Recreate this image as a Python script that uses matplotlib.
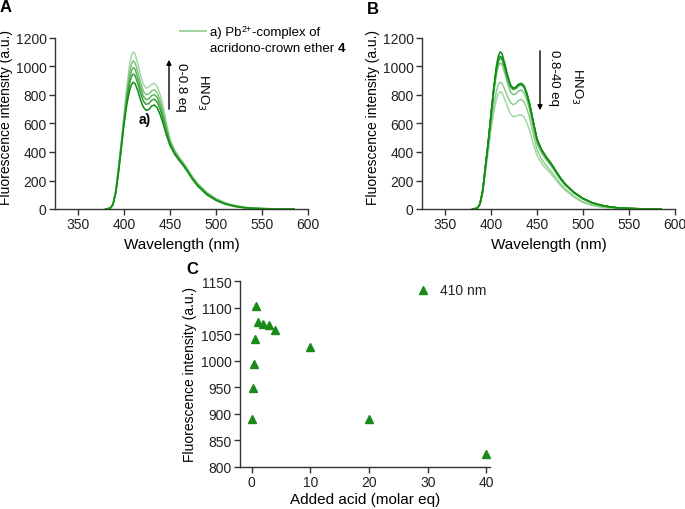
import matplotlib
matplotlib.use("Agg")
import matplotlib.pyplot as plt
from matplotlib.lines import Line2D
from matplotlib.patches import FancyArrowPatch
import numpy as np

plt.rcParams['font.family'] = ['Liberation Sans', 'DejaVu Sans']

# ---------------- data ----------------
wavelength = [380, 385, 388, 391, 394, 397, 400, 403, 406, 408,
              410, 412, 415, 418, 421, 424, 427, 430, 433, 436,
              439, 442, 446, 450, 455, 460, 465, 470, 475, 480,
              490, 500, 510, 520, 530, 540, 550, 565, 585]

# Panel A: 0 - 0.8 eq HNO3
spec_A_0 = [0, 5, 30, 110, 250, 420, 590, 730, 830, 872, 890, 880, 830, 765, 715, 692, 698, 722, 730, 712,
            668, 610, 520, 445, 385, 340, 300, 252, 203, 162, 100, 60, 34, 18, 9, 4, 2, 0, 0]
spec_A_02 = [0, 5, 31, 115, 264, 434, 609, 762, 879, 927, 948, 937, 881, 812, 758, 734, 740, 763, 771, 752,
             706, 645, 544, 457, 393, 347, 306, 257, 208, 167, 105, 64, 37, 20, 10, 5, 3, 0, 0]
spec_A_04 = [0, 5, 32, 120, 274, 444, 624, 788, 916, 969, 993, 981, 921, 849, 792, 767, 773, 795, 803, 784,
             736, 671, 563, 467, 399, 352, 311, 262, 212, 171, 109, 67, 39, 22, 11, 5, 3, 0, 0]
spec_A_06 = [0, 5, 34, 124, 285, 455, 639, 814, 956, 1014, 1040, 1027, 963, 888, 827, 801, 808, 829, 836, 817,
             767, 700, 583, 477, 406, 358, 315, 266, 216, 175, 113, 70, 41, 24, 13, 6, 3, 1, 0]
spec_08 = [0, 5, 35, 130, 300, 470, 660, 850, 1010, 1075, 1103, 1090, 1020, 940, 875, 848, 855, 875, 882, 862,
           810, 738, 610, 490, 415, 365, 322, 272, 222, 180, 118, 74, 44, 26, 14, 7, 4, 1, 0]

# Panel B: 0.8 - 40 eq HNO3
spec_B_1 = [0, 5, 35, 130, 300, 470, 660, 845, 990, 1048, 1072, 1062, 1000, 928, 870, 847, 853, 874, 881, 862,
            810, 738, 610, 490, 415, 365, 322, 272, 222, 180, 118, 74, 44, 26, 14, 7, 4, 1, 0]
spec_B_2 = [0, 5, 35, 130, 300, 470, 658, 843, 987, 1045, 1069, 1059, 998, 925, 868, 845, 852, 872, 879, 860,
            808, 736, 608, 489, 414, 364, 321, 271, 221, 179, 117, 73, 44, 26, 14, 7, 4, 1, 0]
spec_B_3 = [0, 5, 35, 130, 300, 470, 657, 841, 985, 1043, 1067, 1057, 996, 923, 866, 843, 850, 870, 877, 858,
            806, 734, 606, 487, 412, 362, 320, 270, 220, 178, 117, 73, 43, 25, 14, 7, 4, 1, 0]
spec_B_4 = [0, 5, 35, 129, 298, 467, 653, 835, 977, 1034, 1057, 1047, 987, 915, 858, 836, 843, 863, 870, 851,
            800, 728, 600, 482, 408, 358, 316, 267, 218, 176, 115, 72, 43, 25, 13, 7, 4, 1, 0]
spec_B_10 = [0, 5, 34, 127, 292, 458, 640, 815, 950, 1003, 1025, 1014, 955, 882, 825, 802, 808, 828, 835, 816,
             766, 697, 575, 462, 392, 345, 305, 258, 210, 170, 111, 69, 41, 24, 13, 6, 3, 1, 0]
spec_B_20 = [0, 5, 32, 120, 275, 430, 590, 725, 830, 875, 891, 882, 838, 788, 750, 732, 740, 762, 770, 752,
             705, 640, 525, 415, 348, 305, 268, 225, 180, 145, 90, 50, 28, 15, 7, 3, 1, 0, 0]
spec_B_40 = [0, 5, 30, 112, 258, 405, 555, 680, 772, 810, 824, 815, 770, 715, 670, 648, 652, 660, 661, 645,
             605, 550, 455, 375, 320, 282, 248, 208, 168, 135, 83, 46, 25, 13, 6, 3, 1, 0, 0]

# Panel C: intensity at 410 nm vs added acid
acid_eq = [0, 0.2, 0.4, 0.6, 0.8, 1, 2, 3, 4, 10, 20, 40]
int_410 = [890, 948, 993, 1040, 1103, 1072, 1069, 1067, 1057, 1025, 891, 824]

wl_ticks = [350, 400, 450, 500, 550, 600]
fl_ticks = [0, 200, 400, 600, 800, 1000, 1200]
c_yticks = [800, 850, 900, 950, 1000, 1050, 1100, 1150]
c_xticks = [0, 10, 20, 30, 40]

# ---------------- style ----------------
axis_col = '#333333'
dark = np.array([0.07, 0.55, 0.07])
light = np.array([0.64, 0.85, 0.64])
marker_col = '#1a8a1a'


def shade(t):
    return tuple(dark * (1 - t) + light * t)


def style_axes(ax):
    for s in ['top', 'right']:
        ax.spines[s].set_visible(False)
    for s in ['left', 'bottom']:
        ax.spines[s].set_color(axis_col)
        ax.spines[s].set_linewidth(1.0)
    ax.tick_params(colors=axis_col, labelcolor='#222222', labelsize=10, length=4, width=1.0,
                   direction='out', pad=2.0)


fig = plt.figure(figsize=(6.85, 5.1), dpi=100)
W, H = 685, 510


def px_axes(l, r, t, b):
    return fig.add_axes([l / W, 1 - b / H, (r - l) / W, (b - t) / H])


def fx(x):
    return x / W


def fy(y):
    return 1 - y / H


# ---------- Panel A ----------
axA = px_axes(55, 308, 39, 210)
specsA = [spec_A_0, spec_A_02, spec_A_04, spec_A_06, spec_08]
nA = len(specsA)
for i, s in enumerate(specsA):
    axA.plot(wavelength, s, color=shade(i / (nA - 1)), lw=1.1, zorder=10 - i)
axA.set_xlim(325, 600)
axA.set_ylim(0, 1200)
axA.set_xticks(wl_ticks)
axA.set_yticks(fl_ticks)
style_axes(axA)
axA.set_xlabel('Wavelength (nm)', fontsize=11)
axA.xaxis.set_label_coords(0.5, (210 - 238) / 171)
axA.set_ylabel('Fluorescence intensity (a.u.)', fontsize=10)
axA.yaxis.set_label_coords((13 - 55) / 253, (210 - 118) / 171)

# ---------- Panel B ----------
axB = px_axes(422, 675, 39, 210)
specsB = [spec_08, spec_B_1, spec_B_2, spec_B_3, spec_B_4, spec_B_10, spec_B_20, spec_B_40]
nB = len(specsB)
for i, s in enumerate(specsB):
    axB.plot(wavelength, s, color=shade(i / (nB - 1)), lw=1.1, zorder=10 - i)
axB.set_xlim(325, 600)
axB.set_ylim(0, 1200)
axB.set_xticks(wl_ticks)
axB.set_yticks(fl_ticks)
style_axes(axB)
axB.set_xlabel('Wavelength (nm)', fontsize=11)
axB.xaxis.set_label_coords(0.5, (210 - 238) / 171)
axB.set_ylabel('Fluorescence intensity (a.u.)', fontsize=10)
axB.yaxis.set_label_coords((380 - 422) / 253, (210 - 118) / 171)

# ---------- Panel C ----------
axC = px_axes(240, 490, 282, 468)
axC.plot(acid_eq, int_410, linestyle='none', marker='^', markersize=6,
         color=marker_col)
axC.set_xlim(-2, 40.6)
axC.set_ylim(800, 1150)
axC.set_xticks(c_xticks)
axC.set_yticks(c_yticks)
style_axes(axC)
axC.set_xlabel('Added acid (molar eq)', fontsize=11)
axC.xaxis.set_label_coords(0.5, (468 - 493) / 186)
axC.set_ylabel('Fluorescence intensity (a.u.)', fontsize=10)
axC.yaxis.set_label_coords((197 - 240) / 250, 0.5)

# legend of panel C
fig.add_artist(Line2D([fx(423)], [fy(291)], linestyle='none', marker='^', markersize=6, color=marker_col))
fig.text(fx(440), fy(291), '410 nm', fontsize=10, va='center', ha='left', color='#222222')

# ---------- annotations ----------
fig.text(fx(0), fy(8), 'A', fontsize=12, fontweight='bold', va='center', ha='left')
fig.text(fx(367), fy(9), 'B', fontsize=12, fontweight='bold', va='center', ha='left')
fig.text(fx(186), fy(269), 'C', fontsize=12, fontweight='bold', va='center', ha='left')

renderer = fig.canvas.get_renderer()


def chain(pieces, x0, ybase):
    """Write text pieces one after the other starting at pixel x0 (baseline at ybase)."""
    x = x0
    for txt, kw, dy in pieces:
        t = fig.text(fx(x), fy(ybase - dy), txt, va='baseline', ha='left', **kw)
        bb = t.get_window_extent(renderer=renderer)
        x += bb.width


# Legend of panel A
fig.add_artist(Line2D([fx(180), fx(206)], [fy(32), fy(32)], color=shade(0.9), lw=1.3))
chain([('a) Pb', dict(fontsize=9.5), 0),
       ('2+', dict(fontsize=6.5), 4.5),
       ('-complex of', dict(fontsize=9.5), 0)], 210, 36)
chain([('acridono-crown ether ', dict(fontsize=9.5), 0),
       ('4', dict(fontsize=9.5, fontweight='bold'), 0)], 210, 52)

# Arrow A (up)
fig.add_artist(FancyArrowPatch((fx(169), fy(113)), (fx(169), fy(58)),
               transform=fig.transFigure, arrowstyle='-|>', mutation_scale=7, color='black', lw=1.0))
fig.text(fx(181), fy(87), '0-0.8 eq', fontsize=9.5, rotation=-90, va='center', ha='center')
fig.text(fx(203), fy(92), r'HNO$_3$', fontsize=9.5, rotation=-90, va='center', ha='center')
fig.text(fx(145), fy(120), 'a)', fontsize=10, fontweight='bold', va='center', ha='center')

# Arrow B (down)
fig.add_artist(FancyArrowPatch((fx(540), fy(49)), (fx(540), fy(114)),
               transform=fig.transFigure, arrowstyle='-|>', mutation_scale=7, color='black', lw=1.0))
fig.text(fx(554), fy(78), '0.8-40 eq', fontsize=9.5, rotation=-90, va='center', ha='center')
fig.text(fx(577), fy(86), r'HNO$_3$', fontsize=9.5, rotation=-90, va='center', ha='center')

fig.savefig('out.png', dpi=100)
